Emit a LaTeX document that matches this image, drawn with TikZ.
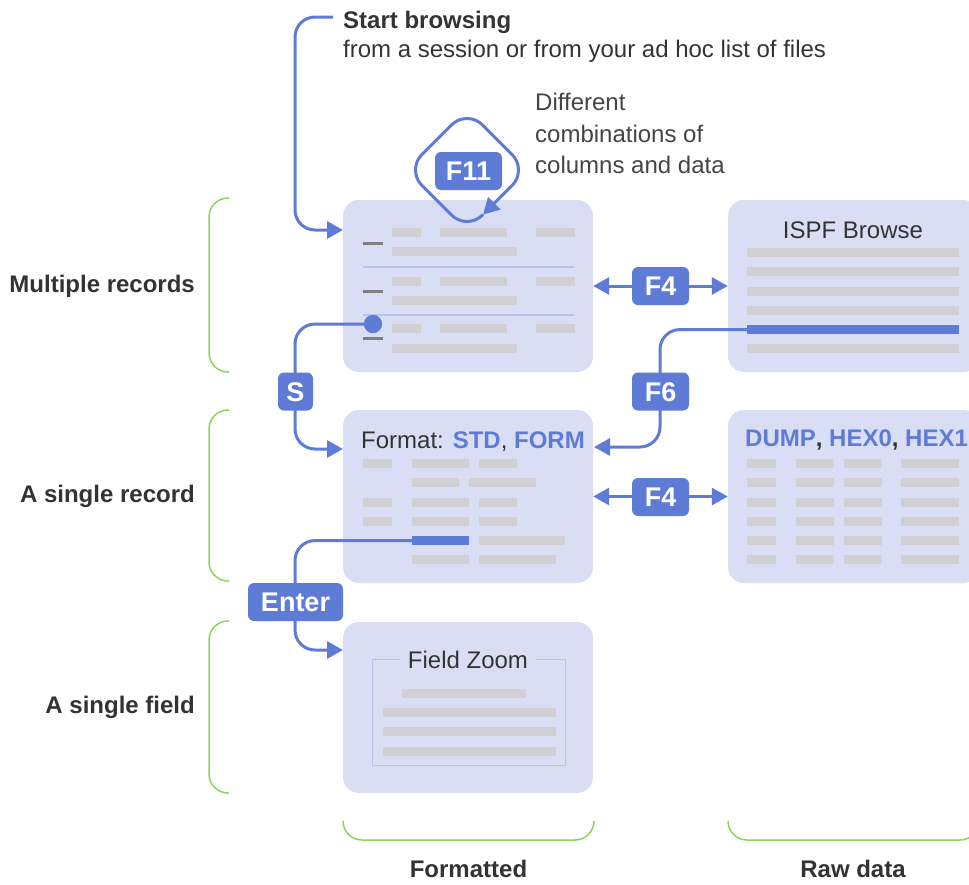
\documentclass[tikz,border=0pt]{standalone}
\usepackage{fontspec}
\setmainfont{Liberation Sans}
\usetikzlibrary{arrows.meta}

\definecolor{panelfill}{RGB}{217,222,245}
\definecolor{keyblue}{RGB}{94,123,214}
\definecolor{bargray}{RGB}{208,208,212}
\definecolor{rulegreen}{RGB}{140,212,92}
\definecolor{inkdark}{RGB}{51,51,51}
\definecolor{inkmid}{RGB}{68,68,68}
\definecolor{seprule}{RGB}{186,195,238}
\definecolor{dashgray}{RGB}{128,128,128}

% placeholder text line inside a panel: x-start, y-top, x-end
\newcommand\graybar[3]{\fill[bargray] (#1,#2) rectangle (#3,#2+9);}

\begin{document}
\begin{tikzpicture}[x=1pt,y=-1pt,
  panel/.style={fill=panelfill, rounded corners=16pt, minimum width=250pt,
    minimum height=172pt, inner sep=0pt},
  conn/.style={draw=keyblue, line width=3pt, rounded corners=20pt},
  tipend/.style={-{Triangle[length=16pt,width=17pt]}},
  tipboth/.style={{Triangle[length=16pt,width=17pt]}-{Triangle[length=16pt,width=17pt]}},
  keylabel/.style={fill=keyblue, text=white, rounded corners=6pt,
    font=\fontsize{27}{27}\selectfont\bfseries, minimum height=38pt,
    inner xsep=4pt, inner ysep=0pt, text height=19.5pt, text depth=0pt},
  body/.style={inner sep=0pt, text=inkdark, font=\fontsize{24}{30}\selectfont},
  bodybold/.style={body, font=\fontsize{24}{30}\selectfont\bfseries},
  bracket/.style={draw=rulegreen, line width=1.5pt, rounded corners=19pt},
  selbar/.style={fill=keyblue, inner sep=0pt, minimum height=9pt}
]
\useasboundingbox (0,0) rectangle (969,884);

% ---------- panels ----------
\node[panel] (multi) at (468,286) {};
\node[panel, minimum width=251pt] (ispf) at (853.5,286) {};
\node[panel, minimum height=173pt] (fmt) at (468,496.5) {};
\node[panel, minimum width=251pt, minimum height=173pt] (dump) at (853.5,496.5) {};
\node[panel, minimum height=171pt] (fzoom) at (468,707.5) {};

% ---------- list of records ----------
\foreach \y in {228,277,324} {
  \graybar{392}{\y}{421}\graybar{440}{\y}{507}\graybar{536}{\y}{575}
}
\foreach \y in {247,296,344} { \graybar{392}{\y}{517} }
\foreach \y in {243,291,338} { \fill[dashgray] (363,\y-1.5) rectangle (383,\y+1.5); }
\foreach \y in {267,315} { \draw[seprule, line width=1.3pt] (363,\y) -- (574,\y); }
\node[circle, fill=keyblue, minimum size=18pt, inner sep=0pt] (recdot) at (373,324) {};

% ---------- ISPF Browse ----------
\node[body, anchor=base] (ispftitle) at (853,238) {ISPF Browse};
\foreach \y in {248,267,287,306,344} { \graybar{747}{\y}{959} }
\node[selbar, minimum width=212pt, anchor=north west] (ispfsel) at (747,325) {};

% ---------- formatted single record ----------
\node[body, anchor=base west] (fmttitle) at (361,448)
  {Format: {\bfseries\color{keyblue}STD}, {\bfseries\color{keyblue}FORM}};
\foreach \y in {459,498,517} {
  \graybar{363}{\y}{392}\graybar{412}{\y}{469}\graybar{479}{\y}{517}
}
\graybar{412}{478}{459}\graybar{469}{478}{536}
\node[selbar, minimum width=57pt, anchor=north west] (fmtsel) at (412,536) {};
\graybar{479}{536}{565}
\graybar{412}{555}{469}\graybar{479}{555}{556}

% ---------- raw single record ----------
\node[body, anchor=base west, font=\fontsize{24}{30}\selectfont\bfseries] (dumptitle) at (745,446)
  {{\color{keyblue}DUMP}, {\color{keyblue}HEX0}, {\color{keyblue}HEX1}};
\foreach \y in {459,478,498,517,536,555} {
  \graybar{747}{\y}{776}\graybar{796}{\y}{834}\graybar{844}{\y}{882}\graybar{901}{\y}{959}
}

% ---------- field zoom ----------
\draw[seprule, line width=1pt] (372,659) rectangle (565,765);
\node[body, anchor=base, fill=panelfill, inner xsep=8pt, inner ysep=4pt] (zoomtitle) at (468,668) {Field Zoom};
\graybar{402}{689}{526}
\foreach \y in {708,727,747} { \graybar{383}{\y}{556} }

% ---------- texts ----------
\node[bodybold, anchor=base west] (starthead) at (343,28) {Start browsing};
\node[body, anchor=base west] (startsub) at (343,57) {from a session or from your ad hoc list of files};
\node[body, text=inkmid, anchor=base west] (note1) at (535,110) {Different};
\node[body, text=inkmid, anchor=base west] (note2) at (535,142) {combinations of};
\node[body, text=inkmid, anchor=base west] (note3) at (535,173) {columns and data};

\node[bodybold, anchor=base east] (lvl1) at (195,292) {Multiple records};
\node[bodybold, anchor=base east] (lvl2) at (195,502) {A single record};
\node[bodybold, anchor=base east] (lvl3) at (195,713) {A single field};
\node[bodybold, anchor=base] (col1) at (468.5,877) {Formatted};
\node[bodybold, anchor=base] (col2) at (853,877) {Raw data};

% ---------- green brackets ----------
\draw[bracket] (229,198) -- (209,198) -- (209,372) -- (229,372);
\draw[bracket] (229,410) -- (209,410) -- (209,581) -- (229,581);
\draw[bracket] (229,621) -- (209,621) -- (209,793) -- (229,793);
\draw[bracket] (343,822) -- (343,840) -- (594,840) -- (594,822);
\draw[bracket] (728,822) -- (728,840) -- (979,840) -- (979,822);

% ---------- connectors ----------
\coordinate (startpt) at (333,17);
\coordinate (multiin) at (343,230);
\coordinate (fmtinl) at (343,449);
\coordinate (fmtinr) at (594,447);
\coordinate (zoomin) at (343,650);
\coordinate (loopend) at (483,214.6);

\draw[conn, tipend] (startpt) -- (295,17) -- (295,230) -- (multiin);
% F11 loop: a rounded diamond that returns onto the list panel
\draw[conn, tipend, rounded corners=22pt] (loopend) -- (467,230.6) -- (406.4,170) -- (467,109.4) -- (527.6,170) -- (loopend);
\draw[conn, tipend] (recdot) -- (295,324) -- (295,449) -- (fmtinl);
\draw[conn, tipend] (ispfsel.west) -- (660,329.5) -- (660,447) -- (fmtinr);
\draw[conn, tipend] (fmtsel.west) -- (295,540.5) -- (295,650) -- (zoomin);
\draw[conn, tipboth] (multi.east) -- (ispf.west);
\draw[conn, tipboth] (fmt.east) -- (dump.west);
\node[circle, fill=keyblue, minimum size=18pt, inner sep=0pt] at (recdot) {};

% ---------- key labels ----------
\node[keylabel, minimum width=67pt] (kF11) at (468.5,171) {F11};
\node[keylabel, minimum width=57pt] (kF4a) at (660.5,286) {F4};
\node[keylabel, minimum width=57pt] (kF4b) at (660.5,497) {F4};
\node[keylabel, minimum width=57pt] (kF6) at (660.5,391.5) {F6};
\node[keylabel, minimum width=35pt] (kS) at (295.5,391.5) {S};
\node[keylabel, minimum width=95pt] (kEnter) at (295.5,602) {Enter};
\end{tikzpicture}
\end{document}
